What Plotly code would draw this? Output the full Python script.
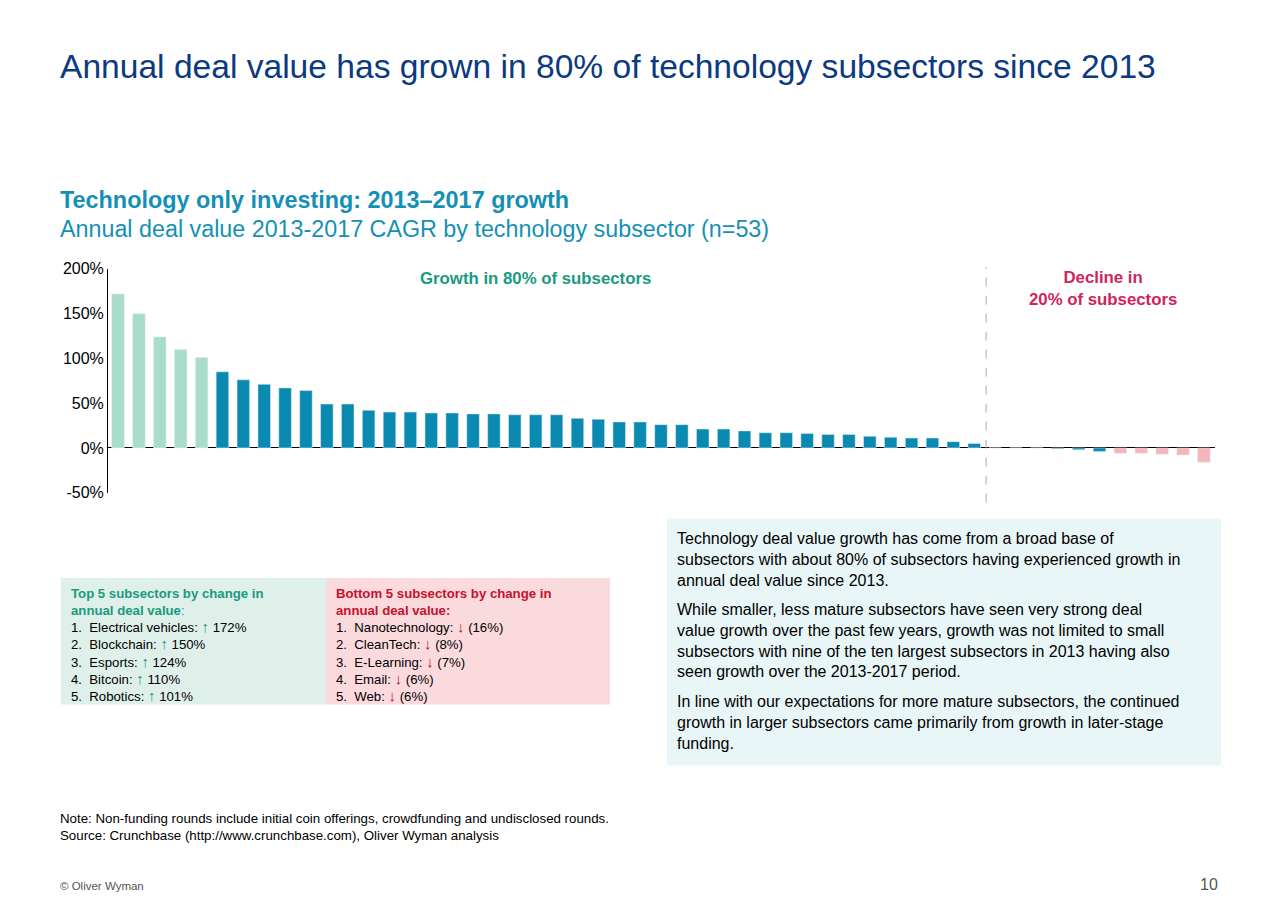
import plotly.graph_objects as go

values = [172,150,124,110,101,85,76,71,67,64,49,49,42,40,40,39,39,38,38,37,37,37,33,32,29,29,26,26,21,21,19,17,17,16,15,15,13,12,11,11,7,5,
          0,0,0,-1,-2,-4,-6,-6,-7,-8,-16]
colors = ["#a9dcc9"]*5 + ["#0a89b1"]*(len(values)-10) + ["#f6b5bb"]*5
yticks = [-50,0,50,100,150,200]
ytick_labels = ["-50%","0%","50%","100%","150%","200%"]

W, H = 1280, 915
def px(x): return (x-8)/W
def py(y): return 1 - ((y-18)/0.978)/H

fig = go.Figure(go.Bar(x=list(range(len(values))), y=values, marker_color=colors, width=0.6))
fig.update_layout(
    width=W, height=H, margin=dict(l=0, r=0, t=0, b=0),
    paper_bgcolor="white", plot_bgcolor="white", showlegend=False,
    font=dict(family="Liberation Sans, Arial", color="#000"),
    xaxis=dict(domain=[px(108), px(1215)], range=[-0.48, 52.53], visible=False),
    yaxis=dict(domain=[py(493), py(270)], range=[-50, 200], tickvals=yticks, ticktext=ytick_labels,
               showgrid=False, zeroline=True, zerolinecolor="#000", zerolinewidth=1,
               showline=True, linecolor="#000", linewidth=1, ticks="", tickfont=dict(size=16)),
)
fig.add_shape(type="line", xref="x", yref="paper", x0=41.57, x1=41.57, y0=py(503), y1=py(268),
              line=dict(color="#aaaaaa", width=1, dash="dash"))

def txt(x, y, s, size, color="#000", anchor="left", yanchor="middle", bold=False, align="left"):
    if bold: s = f"<b>{s}</b>"
    fig.add_annotation(xref="paper", yref="paper", x=px(x), y=py(y), text=s, showarrow=False,
                       xanchor=anchor, yanchor=yanchor, align=align,
                       font=dict(size=size, color=color))

txt(58, 68, "Annual deal value has grown in 80% of technology subsectors since 2013", 33.6, "#0b3a80")
txt(58, 201, "Technology only investing: 2013–2017 growth", 23.4, "#1590b5", bold=True)
txt(58, 230, "Annual deal value 2013-2017 CAGR by technology subsector (n=53)", 23.3, "#1590b5")
txt(535, 280, "Growth in 80% of subsectors", 16.8, "#1a9a80", anchor="center", bold=True)
txt(1103, 290, "Decline in<br>20% of subsectors", 16.8, "#d0245c", anchor="center", bold=True, align="center")

fig.add_shape(type="rect", xref="paper", yref="paper", x0=px(61), x1=px(326), y0=py(704), y1=py(578),
              fillcolor="#dff0ea", line_width=0, layer="below")
fig.add_shape(type="rect", xref="paper", yref="paper", x0=px(326), x1=px(610), y0=py(704), y1=py(578),
              fillcolor="#fadadd", line_width=0, layer="below")
fig.add_shape(type="rect", xref="paper", yref="paper", x0=px(667), x1=px(1221), y0=py(765), y1=py(519),
              fillcolor="#e8f6f7", line_width=0, layer="below")

up = "<span style='color:#1a9a80;font-size:15px'><b>↑</b></span>"
dn = "<span style='color:#c8102e;font-size:15px'><b>↓</b></span>"
top5 = ["Electrical vehicles", "Blockchain", "Esports", "Bitcoin", "Robotics"]
top5v = ["172%", "150%", "124%", "110%", "101%"]
bot5 = ["Nanotechnology", "CleanTech", "E-Learning", "Email", "Web"]
bot5v = ["(16%)", "(8%)", "(7%)", "(6%)", "(6%)"]

left = "<span style='color:#1a9a80'><b>Top 5 subsectors by change in<br>annual deal value</b>:</span><br>" + \
    "<br>".join(f"{i+1}.  {n}: {up} {v}" for i, (n, v) in enumerate(zip(top5, top5v)))
right = "<span style='color:#c8102e'><b>Bottom 5 subsectors by change in<br>annual deal value:</b></span><br>" + \
    "<br>".join(f"{i+1}.  {n}: {dn} {v}" for i, (n, v) in enumerate(zip(bot5, bot5v)))
txt(69, 584, left, 13.2, yanchor="top")
txt(334, 584, right, 13.2, yanchor="top")

p1 = ("Technology deal value growth has come from a broad base of<br>"
      "subsectors with about 80% of subsectors having experienced growth in<br>"
      "annual deal value since 2013.")
p2 = ("While smaller, less mature subsectors have seen very strong deal<br>"
      "value growth over the past few years, growth was not limited to small<br>"
      "subsectors with nine of the ten largest subsectors in 2013 having also<br>"
      "seen growth over the 2013-2017 period.")
p3 = ("In line with our expectations for more mature subsectors, the continued<br>"
      "growth in larger subsectors came primarily from growth in later-stage<br>"
      "funding.")
txt(675, 528, p1, 16, yanchor="top")
txt(675, 599, p2, 16, yanchor="top")
txt(675, 691, p3, 16, yanchor="top")

txt(58, 826, "Note: Non-funding rounds include initial coin offerings, crowdfunding and undisclosed rounds.<br>"
    "Source: Crunchbase (http://www.crunchbase.com), Oliver Wyman analysis", 13.3)
txt(58, 885, "© Oliver Wyman", 11.5, "#555")
txt(1220, 883, "10", 16, "#555", anchor="right")

fig.write_html("out.html")
